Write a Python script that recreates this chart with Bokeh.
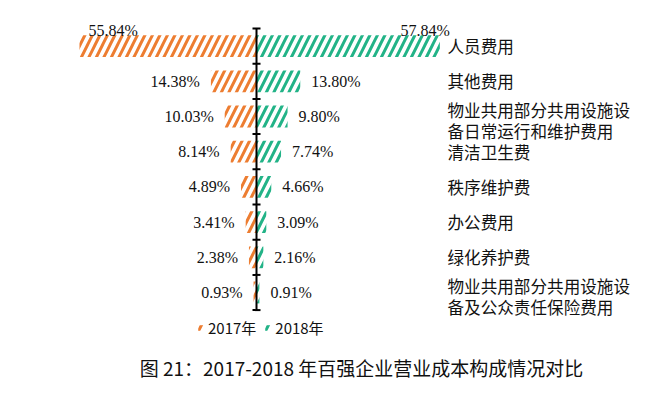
from bokeh.plotting import figure
from bokeh.models import ColumnDataSource, Legend, LegendItem, Label
from bokeh.core.properties import value
from bokeh.embed import file_html
from bokeh.resources import INLINE

categories = [
    "人员费用",
    "其他费用",
    "物业共用部分共用设施设\n备日常运行和维护费用",
    "清洁卫生费",
    "秩序维护费",
    "办公费用",
    "绿化养护费",
    "物业共用部分共用设施设\n备及公众责任保险费用",
]
v2017 = [55.84, 14.38, 10.03, 8.14, 4.89, 3.41, 2.38, 0.93]
v2018 = [57.84, 13.80, 9.80, 7.74, 4.66, 3.09, 2.16, 0.91]
series_names = ["2017年", "2018年"]
title_text = "图 21：2017-2018 年百强企业营业成本构成情况对比"

ORANGE = "#ED7D31"
GREEN = "#22B387"
TXT = "#111111"
CJK = "Noto Sans CJK SC"
NUM = "Liberation Serif"

W, H = 634, 387
PX = 3.17          # pixels per percent
AXIS_X = 256       # canvas x of the centre axis
ROW_H = 35.2
ROW0_Y = 45.6

n = len(categories)
x_start = -AXIS_X / PX
x_end = (W - AXIS_X) / PX
y_end = ROW0_Y / ROW_H
y_start = -(H - ROW0_Y) / ROW_H

p = figure(width=W, height=H, x_range=(x_start, x_end), y_range=(y_start, y_end),
           output_backend="svg", toolbar_location=None, min_border=0,
           x_axis_location=None, y_axis_location=None)
p.grid.visible = False
p.outline_line_color = None
p.background_fill_color = "white"

ys = [-i for i in range(n)]
src = ColumnDataSource(dict(y=ys, l17=[-v for v in v2017], r18=v2018))

hatch = dict(fill_alpha=0, line_alpha=0, hatch_pattern="/", hatch_weight=3, hatch_scale=15)
r17 = p.hbar(y="y", left="l17", right=0, height=0.62, hatch_color=ORANGE, source=src, **hatch)
r18 = p.hbar(y="y", left=0, right="r18", height=0.62, hatch_color=GREEN, source=src, **hatch)

# centre axis with tick caps
p.segment(x0=[0], y0=[0.5], x1=[0], y1=[0.5 - n], line_color="black", line_width=2)
cap = 4 / PX
tys = [0.5 - k for k in range(n + 1)]
p.segment(x0=[-cap] * len(tys), y0=tys, x1=[cap] * len(tys), y1=tys,
          line_color="black", line_width=2)

# value labels
above = 15.6 / ROW_H
lx, ly, lt, la, lo = [], [], [], [], []
for i in range(n):
    a, b = v2017[i], v2018[i]
    if a > 40:
        lx.append(-a); ly.append(-i + above); la.append("left"); lo.append(9)
    else:
        lx.append(-a); ly.append(-i); la.append("right"); lo.append(-11)
    lt.append(f"{a:.2f}%")
    if b > 40:
        lx.append(b); ly.append(-i + above); la.append("right"); lo.append(10)
    else:
        lx.append(b); ly.append(-i); la.append("left"); lo.append(11)
    lt.append(f"{b:.2f}%")

lsrc = ColumnDataSource(dict(x=lx, y=ly, t=lt, a=la, o=lo))
p.text(x="x", y="y", text="t", text_align="a", x_offset="o", text_baseline="middle",
       text_font=value(NUM), text_font_size="16px", text_color=TXT, source=lsrc)

# category labels (two-line labels split into separate lines)
cat_x = (447 - AXIS_X) / PX
half = 10.5 / ROW_H
drop = 4 / ROW_H
cx, cy, ct = [], [], []
for i, c in enumerate(categories):
    lines = c.split("\n")
    if len(lines) == 1:
        cx.append(cat_x); cy.append(-i); ct.append(c)
    else:
        cx += [cat_x, cat_x]
        cy += [-i - drop + half, -i - drop - half]
        ct += lines
csrc = ColumnDataSource(dict(x=cx, y=cy, t=ct))
p.text(x="x", y="y", text="t", text_align="left", text_baseline="middle",
       text_font=value(CJK), text_font_size="16.6px", text_color=TXT, source=csrc)

# legend
legend = Legend(items=[LegendItem(label=series_names[0], renderers=[r17]),
                       LegendItem(label=series_names[1], renderers=[r18])],
                orientation="horizontal", location=(197, H - 328 - 10),
                glyph_width=7, glyph_height=7, label_standoff=4, spacing=8,
                padding=0, margin=0, border_line_alpha=0, background_fill_alpha=0,
                label_text_font=CJK, label_text_font_size="15px",
                label_text_color=TXT, label_height=20)
p.add_layout(legend)

# title under the chart
p.add_layout(Label(x=361, y=H - 367, x_units="screen", y_units="screen", text=title_text,
                   text_align="center", text_baseline="middle",
                   text_font=CJK, text_font_size="19px", text_color=TXT))

open("out.html", "w").write(file_html(p, INLINE))
